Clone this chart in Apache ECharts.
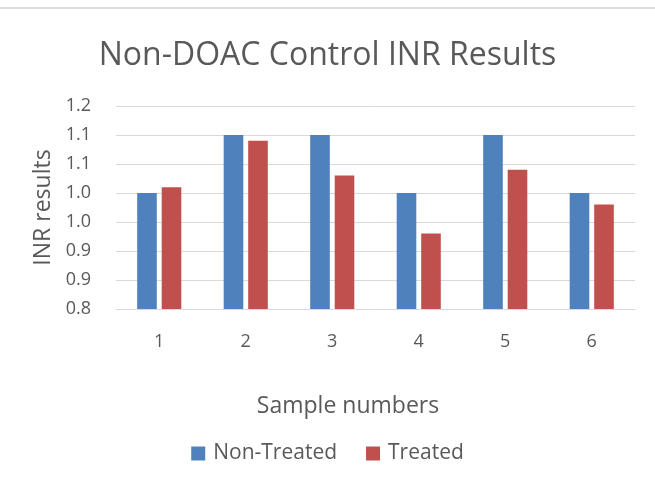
<!DOCTYPE html>
<html>
<head>
<meta charset="utf-8">
<script src="https://cdn.jsdelivr.net/npm/echarts@6/dist/echarts.min.js"></script>
<style>html,body{margin:0;padding:0;background:#fff}#c{width:655px;height:483px}</style>
</head>
<body>
<div id="c"></div>
<script>
const categories = ['1', '2', '3', '4', '5', '6'];
const nonTreated = [1.00, 1.10, 1.10, 1.00, 1.10, 1.00];
const treated = [1.01, 1.09, 1.03, 0.93, 1.04, 0.98];
const yTickLabels = ['0.8', '0.9', '0.9', '1.0', '1.0', '1.1', '1.1', '1.2'];
const yMin = 0.8, yMax = 1.15, yStep = 0.05;

const FONT = 'Open Sans';
const chart = echarts.init(document.getElementById('c'), null, {renderer: 'canvas'});
chart.setOption({
  animation: false,
  backgroundColor: '#fff',
  title: {
    text: 'Non-DOAC Control INR Results',
    left: 'center', top: 35,
    textStyle: {fontFamily: FONT, fontSize: 32, fontWeight: 'normal', color: '#595959'}
  },
  graphic: [{
    type: 'rect', shape: {x: 0, y: 7, width: 655, height: 2},
    style: {fill: '#dcdcdc'}, silent: true
  }],
  legend: {
    top: 438, left: 'center',
    itemWidth: 14, itemHeight: 14, itemGap: 29,
    icon: 'rect',
    textStyle: {fontFamily: FONT, fontSize: 21, color: '#595959', padding: [0, 0, 0, 3]},
    data: ['Non-Treated', 'Treated']
  },
  grid: {left: 116, right: 20, top: 106, bottom: 174, containLabel: false},
  xAxis: {
    type: 'category', data: categories,
    name: 'Sample numbers', nameLocation: 'middle', nameGap: 86,
    nameTextStyle: {fontFamily: FONT, fontSize: 23, color: '#595959', verticalAlign: 'top',
                    padding: [0, 55, 0, 0]},
    axisLine: {show: true, lineStyle: {color: '#d9d9d9', width: 1}},
    axisTick: {show: false},
    axisLabel: {fontFamily: FONT, fontSize: 18, color: '#595959', margin: 24}
  },
  yAxis: {
    type: 'value', min: yMin, max: yMax, interval: yStep,
    name: 'INR results', nameLocation: 'middle', nameGap: 60, nameRotate: 90,
    nameTextStyle: {fontFamily: FONT, fontSize: 23, color: '#595959'},
    axisLine: {show: false}, axisTick: {show: false},
    axisLabel: {
      fontFamily: FONT, fontSize: 18, color: '#595959', margin: 25,
      formatter: v => yTickLabels[Math.round((v - yMin) / yStep)] || ''
    },
    splitLine: {lineStyle: {color: '#d9d9d9', width: 1}}
  },
  series: [
    {name: 'Non-Treated', type: 'bar', data: nonTreated,
     itemStyle: {color: '#4f81bd'}, barGap: '25%', barCategoryGap: '49%'},
    {name: 'Treated', type: 'bar', data: treated,
     itemStyle: {color: '#c0504d'}, barGap: '25%', barCategoryGap: '49%'}
  ]
});
</script>
</body>
</html>
